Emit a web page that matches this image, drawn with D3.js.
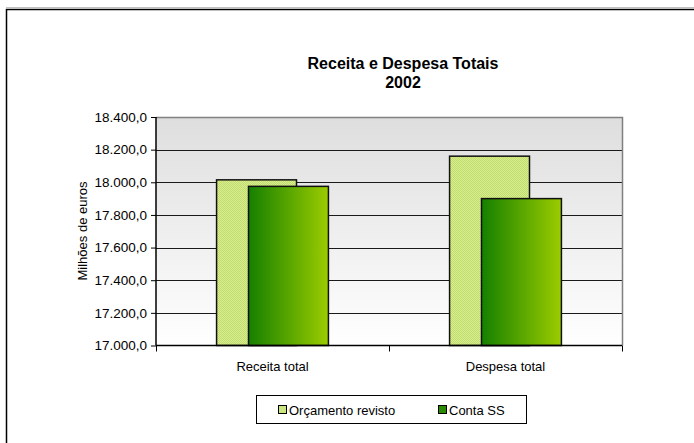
<!DOCTYPE html>
<html><head><meta charset="utf-8">
<script src="https://cdn.jsdelivr.net/npm/d3@7"></script>
<style>body{margin:0;background:#fff}svg{display:block;font-family:"Liberation Sans",Arial,sans-serif}</style>
</head><body>
<svg id="c" width="694" height="443"></svg>
<script>
const categories = ["Receita total", "Despesa total"];
const seriesNames = ["Orçamento revisto", "Conta SS"];
const orcamento = [18015, 18160];
const contaSS = [17975, 17900];
const yTicks = [17000, 17200, 17400, 17600, 17800, 18000, 18200, 18400];

const FF = "Liberation Sans, Arial, sans-serif";
const svg = d3.select("#c");
const defs = svg.append("defs");
const bg = defs.append("linearGradient").attr("id","bg").attr("x1",0).attr("y1",0).attr("x2",0).attr("y2",1);
bg.append("stop").attr("offset","0%").attr("stop-color","#dedede");
bg.append("stop").attr("offset","100%").attr("stop-color","#ffffff");
const dg = defs.append("linearGradient").attr("id","dg").attr("x1",0).attr("y1",0).attr("x2",1).attr("y2",0);
dg.append("stop").attr("offset","0%").attr("stop-color","#158000");
dg.append("stop").attr("offset","100%").attr("stop-color","#9ccc00");
const pat = defs.append("pattern").attr("id","lp").attr("width",2).attr("height",2).attr("patternUnits","userSpaceOnUse");
pat.append("rect").attr("width",2).attr("height",2).attr("fill","#d8ee90");
pat.append("rect").attr("width",1).attr("height",1).attr("fill","#c0dc6c");
pat.append("rect").attr("x",1).attr("y",1).attr("width",1).attr("height",1).attr("fill","#c0dc6c");

// outer chart border
svg.append("rect").attr("x",6.5).attr("y",9.5).attr("width",700).attr("height",450)
  .attr("fill","none").attr("stroke","#000").attr("stroke-width",1.5);
svg.append("line").attr("x1",6).attr("x2",694).attr("y1",7.5).attr("y2",7.5).attr("stroke","#c0c0c0");

const L = 156, R = 622, T = 117, B = 345.5;
const x = d3.scaleBand().domain(categories).range([L, R]).paddingInner(0).paddingOuter(0);
const y = d3.scaleLinear().domain([17000, 18400]).range([B, T]);

svg.append("rect").attr("x",L).attr("y",T).attr("width",R-L).attr("height",B-T).attr("fill","url(#bg)");

// gridlines
svg.append("g").selectAll("line").data(yTicks.slice(1,-1)).join("line")
  .attr("x1",L).attr("x2",R).attr("y1",d=>Math.round(y(d))+0.5).attr("y2",d=>Math.round(y(d))+0.5)
  .attr("stroke","#1a1a1a").attr("stroke-width",1);
// top and right border
svg.append("path").attr("d",`M${L},${T+0.5}H${R+0.5}V${B}`).attr("fill","none").attr("stroke","#808080").attr("stroke-width",1.5);

// bars
const bw = x.bandwidth()*0.343, off = x.bandwidth()*0.137;
const g = svg.append("g");
g.selectAll("rect.a").data(categories).join("rect").attr("class","a")
  .attr("x",(d)=>x(d)+x.bandwidth()/2-(bw+off)/2).attr("y",(d,i)=>y(orcamento[i]))
  .attr("width",bw).attr("height",(d,i)=>B-y(orcamento[i]))
  .attr("fill","url(#lp)").attr("stroke","#111").attr("stroke-width",1.5);
g.selectAll("rect.b").data(categories).join("rect").attr("class","b")
  .attr("x",(d)=>x(d)+x.bandwidth()/2-(bw+off)/2+off).attr("y",(d,i)=>y(contaSS[i]))
  .attr("width",bw).attr("height",(d,i)=>B-y(contaSS[i]))
  .attr("fill","url(#dg)").attr("stroke","#111").attr("stroke-width",1.5);

// y axis
const fmt = v => d3.format(",.1f")(v).replace(/,/g,"X").replace(/\./g,",").replace(/X/g,".");
const ya = svg.append("g").attr("transform",`translate(${L},0)`)
  .call(d3.axisLeft(y).tickValues(yTicks).tickSize(5).tickFormat(fmt));
ya.select(".domain").attr("stroke","#000").attr("stroke-width",1.5).attr("d",`M0,${T}V${B}`);
ya.selectAll(".tick line").attr("stroke","#000");
ya.selectAll(".tick text").attr("font-size","13.5px").attr("fill","#000").attr("x",-9)
  .attr("font-family",FF);

// x axis
const xa = svg.append("g").attr("transform",`translate(0,${B})`)
  .call(d3.axisBottom(x).tickSize(0).tickPadding(0));
xa.select(".domain").attr("stroke","#000").attr("stroke-width",1.5).attr("d",`M${L},0H${R}`);
xa.selectAll(".tick text").attr("font-size","13px").attr("fill","#000").attr("dy",null).attr("y",25)
  .attr("font-family",FF);
svg.append("g").selectAll("line").data([L, x(categories[1]), R]).join("line")
  .attr("x1",d=>Math.round(d)+0.5).attr("x2",d=>Math.round(d)+0.5).attr("y1",B).attr("y2",B+6).attr("stroke","#000");

// y title
svg.append("text").attr("transform","translate(87,231) rotate(-90)").attr("text-anchor","middle")
  .attr("font-size","13px").attr("font-family",FF).text("Milhões de euros");

// title
const tt = svg.append("text").attr("text-anchor","middle").attr("font-size","16px").attr("font-weight","bold").attr("font-family",FF);
tt.append("tspan").attr("x",403).attr("y",69).text("Receita e Despesa Totais");
tt.append("tspan").attr("x",403).attr("y",88).text("2002");

// legend
svg.append("rect").attr("x",256.5).attr("y",395.5).attr("width",270).attr("height",28).attr("fill","#fff").attr("stroke","#000");
const lx = [278, 438];
const lg = svg.append("g").selectAll("g").data(seriesNames).join("g")
  .attr("transform",(d,i)=>`translate(${lx[i]},405)`);
lg.append("rect").attr("x",0.5).attr("y",0.5).attr("width",8).attr("height",8)
  .attr("fill",(d,i)=>i===0?"#cce67f":"#2a8a00").attr("stroke","#000");
lg.append("text").attr("x",11).attr("y",9.5).attr("font-size","13px").attr("font-family",FF).text(d=>d);
</script>
</body></html>
